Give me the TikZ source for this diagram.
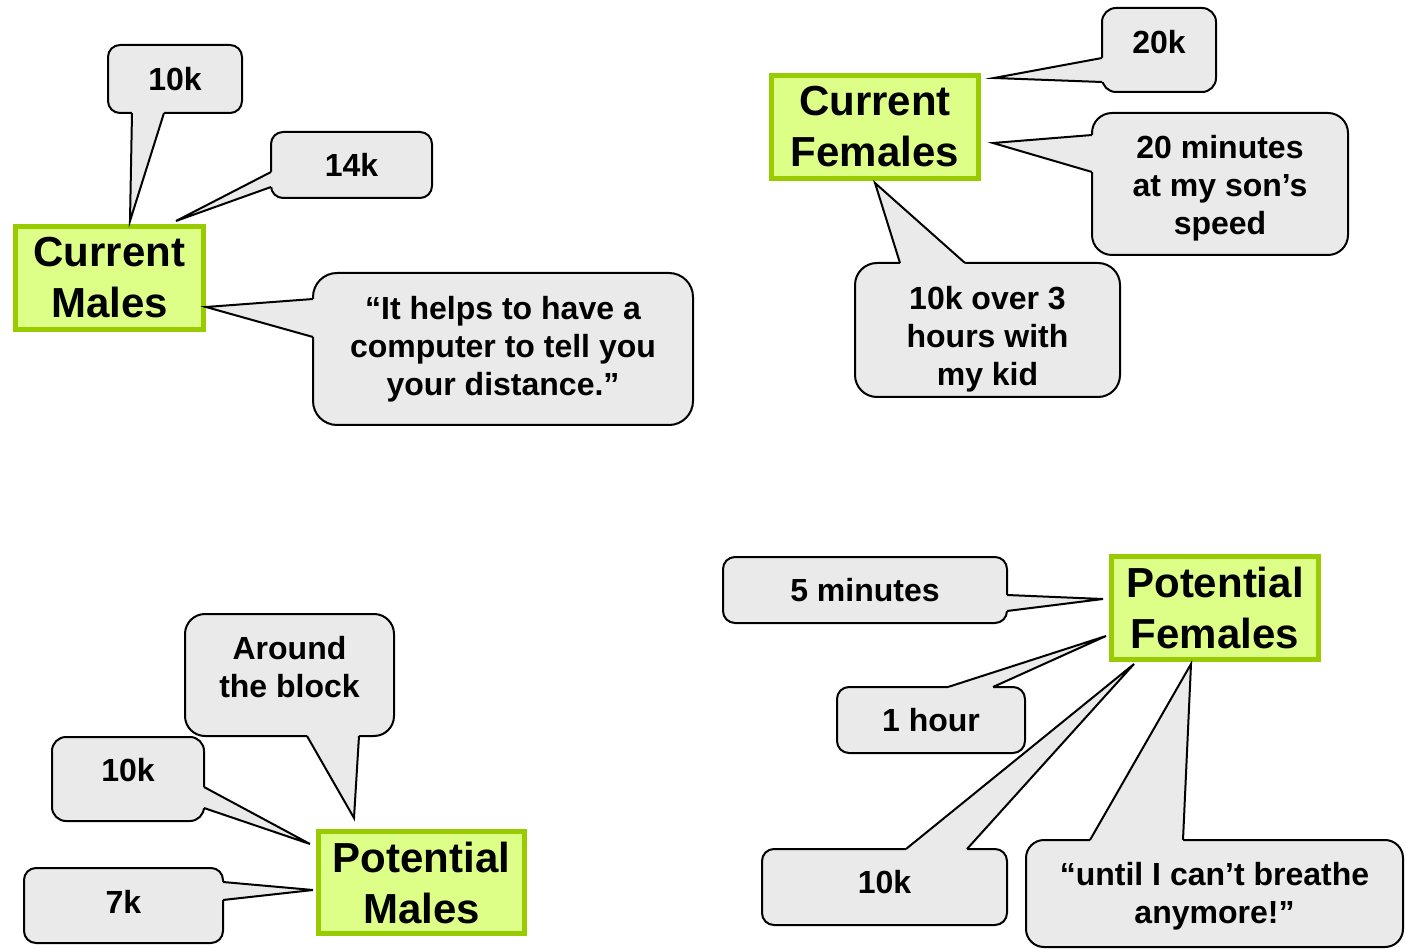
\documentclass[tikz,border=0pt]{standalone}
\usepackage{fontspec}
\setmainfont{Liberation Sans}
\usepackage{tikz}
\usetikzlibrary{calc}
\definecolor{bubblegray}{RGB}{234,234,234}
\definecolor{boxfill}{RGB}{221,255,136}
\definecolor{boxline}{RGB}{153,204,0}

\tikzset{
  bubble/.style={fill=bubblegray, draw=black, line width=2pt, rounded corners=12pt,
    align=center, inner sep=0pt, outer sep=0pt, font=\bfseries\fontsize{32}{38}\selectfont},
  bubbletext/.style={align=center, inner sep=0pt, font=\bfseries\fontsize{32}{38}\selectfont},
  groupbox/.style={fill=boxfill, draw=boxline, line width=5pt,
    align=center, inner sep=0pt, outer sep=0pt, font=\bfseries\fontsize{42}{51}\selectfont}
}

% pointer of a callout: base #1 and #2 on the bubble, #3 into the bubble, tip #4
\newcommand{\pointer}[4]{%
  \fill[bubblegray] ($(#1)+(#3)$) -- (#1) -- (#4) -- (#2) -- ($(#2)+(#3)$) -- cycle;
  \draw[line width=2pt] (#1) -- (#4) -- (#2);
}

\begin{document}
\begin{tikzpicture}[x=1pt, y=-1pt]
            \useasboundingbox (0,0) rectangle (1406,949);

            % Groups
            \node[groupbox, minimum width=188pt, minimum height=103pt] (cm) at (109.5,278) {Current\\Males};
            \node[groupbox, minimum width=207pt, minimum height=103pt] (cf) at (875,127) {Current\\Females};
            \node[groupbox, minimum width=206pt, minimum height=102pt] (pm) at (421.5,882.5) {Potential\\Males};
            \node[groupbox, minimum width=207pt, minimum height=103pt] (pf) at (1215,608) {Potential\\Females};

            % Current males
            \node[bubble, minimum width=134pt, minimum height=68pt] (cm10) at (175,79) {10k};
            \coordinate (cm10a) at ($(cm10.south west)+(24,0)$);
            \coordinate (cm10b) at ($(cm10.south west)+(56,0)$);
            \coordinate (cm10t) at (130,221);
            \pointer{cm10a}{cm10b}{0,-3}{cm10t}

            \node[bubble, minimum width=161pt, minimum height=66pt] (cm14) at (351.5,165) {14k};
            \coordinate (cm14a) at ($(cm14.north west)+(0,40)$);
            \coordinate (cm14b) at ($(cm14.north west)+(0,55)$);
            \coordinate (cm14t) at (176,221);
            \pointer{cm14a}{cm14b}{3,0}{cm14t}

            \node[bubble, rounded corners=24pt, minimum width=380pt, minimum height=152pt] (cmq) at (503,349)
                {“It helps to have a\\computer to tell you\\your distance.”};
            \coordinate (cmqa) at ($(cmq.north west)+(0,26)$);
            \coordinate (cmqb) at ($(cmq.north west)+(0,64)$);
            \coordinate (cmqt) at (206,307);
            \pointer{cmqa}{cmqb}{3,0}{cmqt}

            % Current females
            \node[bubble, rounded corners=14pt, minimum width=114pt, minimum height=84pt] (cf20) at (1159,50) {};
            \node[bubbletext] at ([yshift=8pt]cf20.center) {20k};
            \coordinate (cf20a) at ($(cf20.north west)+(0,50)$);
            \coordinate (cf20b) at ($(cf20.north west)+(0,74)$);
            \coordinate (cf20t) at (994,78);
            \pointer{cf20a}{cf20b}{3,0}{cf20t}

            \node[bubble, rounded corners=20pt, minimum width=256pt, minimum height=142pt] (cfmin) at (1220,184) {};
            \node[bubbletext] at ([yshift=-4pt]cfmin.center) {20 minutes\\at my son’s\\speed};
            \coordinate (cfmina) at ($(cfmin.north west)+(0,22)$);
            \coordinate (cfminb) at ($(cfmin.north west)+(0,59)$);
            \coordinate (cfmint) at (993,143);
            \pointer{cfmina}{cfminb}{3,0}{cfmint}

            \node[bubble, rounded corners=22pt, minimum width=265pt, minimum height=134pt] (cfkid) at (987.5,330) {};
            \node[bubbletext] at ([yshift=-9pt]cfkid.center) {10k over 3\\hours with\\my kid};
            \coordinate (cfkida) at ($(cfkid.north west)+(45,0)$);
            \coordinate (cfkidb) at ($(cfkid.north west)+(110,0)$);
            \coordinate (cfkidt) at (875,183);
            \pointer{cfkida}{cfkidb}{0,3}{cfkidt}

            % Potential males
            \node[bubble, rounded corners=20pt, minimum width=209pt, minimum height=122pt] (pmblock) at (289.5,675) {};
            \node[bubbletext] at ([yshift=8pt]pmblock.center) {Around\\the block};
            \coordinate (pmblocka) at ($(pmblock.south west)+(122,0)$);
            \coordinate (pmblockb) at ($(pmblock.south west)+(174,0)$);
            \coordinate (pmblockt) at (354,818);
            \pointer{pmblocka}{pmblockb}{0,-3}{pmblockt}

            \node[bubble, rounded corners=14pt, minimum width=152pt, minimum height=84pt] (pm10) at (128,779) {};
            \node[bubbletext] at ([yshift=9pt]pm10.center) {10k};
            \coordinate (pm10a) at ($(pm10.north east)+(0,50)$);
            \coordinate (pm10b) at ($(pm10.north east)+(0,71)$);
            \coordinate (pm10t) at (310,844);
            \pointer{pm10a}{pm10b}{-3,0}{pm10t}

            \node[bubble, minimum width=199pt, minimum height=75pt] (pm7) at (123.5,905.5) {};
            \node[bubbletext] at ([yshift=4pt]pm7.center) {7k};
            \coordinate (pm7a) at ($(pm7.north east)+(0,14)$);
            \coordinate (pm7b) at ($(pm7.north east)+(0,32)$);
            \coordinate (pm7t) at (313,890);
            \pointer{pm7a}{pm7b}{-3,0}{pm7t}

            % Potential females
            \node[bubble, minimum width=284pt, minimum height=66pt] (pf5) at (865,590) {5 minutes};
            \coordinate (pf5a) at ($(pf5.north east)+(0,38)$);
            \coordinate (pf5b) at ($(pf5.north east)+(0,54)$);
            \coordinate (pf5t) at (1103,599);
            \pointer{pf5a}{pf5b}{-3,0}{pf5t}

            \node[bubble, minimum width=188pt, minimum height=66pt] (pf1h) at (931,720) {1 hour};
            \coordinate (pf1ha) at ($(pf1h.north west)+(111,0)$);
            \coordinate (pf1hb) at ($(pf1h.north west)+(156,0)$);
            \coordinate (pf1ht) at (1106,636);
            \pointer{pf1ha}{pf1hb}{0,3}{pf1ht}

            \node[bubble, minimum width=245pt, minimum height=76pt] (pf10) at (884.5,887) {};
            \node[bubbletext] at ([yshift=5pt]pf10.center) {10k};
            \coordinate (pf10a) at ($(pf10.north west)+(144,0)$);
            \coordinate (pf10b) at ($(pf10.north west)+(205,0)$);
            \coordinate (pf10t) at (1134,664);
            \pointer{pf10a}{pf10b}{0,3}{pf10t}

            \node[bubble, rounded corners=18pt, minimum width=377pt, minimum height=107pt] (pfq) at (1214.5,893.5) {};
            \node[bubbletext] at ([yshift=-3pt]pfq.center) {“until I can’t breathe\\anymore!”};
            \coordinate (pfqa) at ($(pfq.north west)+(64,0)$);
            \coordinate (pfqb) at ($(pfq.north west)+(157,0)$);
            \coordinate (pfqt) at (1191,664);
            \pointer{pfqa}{pfqb}{0,3}{pfqt}
        \end{tikzpicture}
\end{document}
